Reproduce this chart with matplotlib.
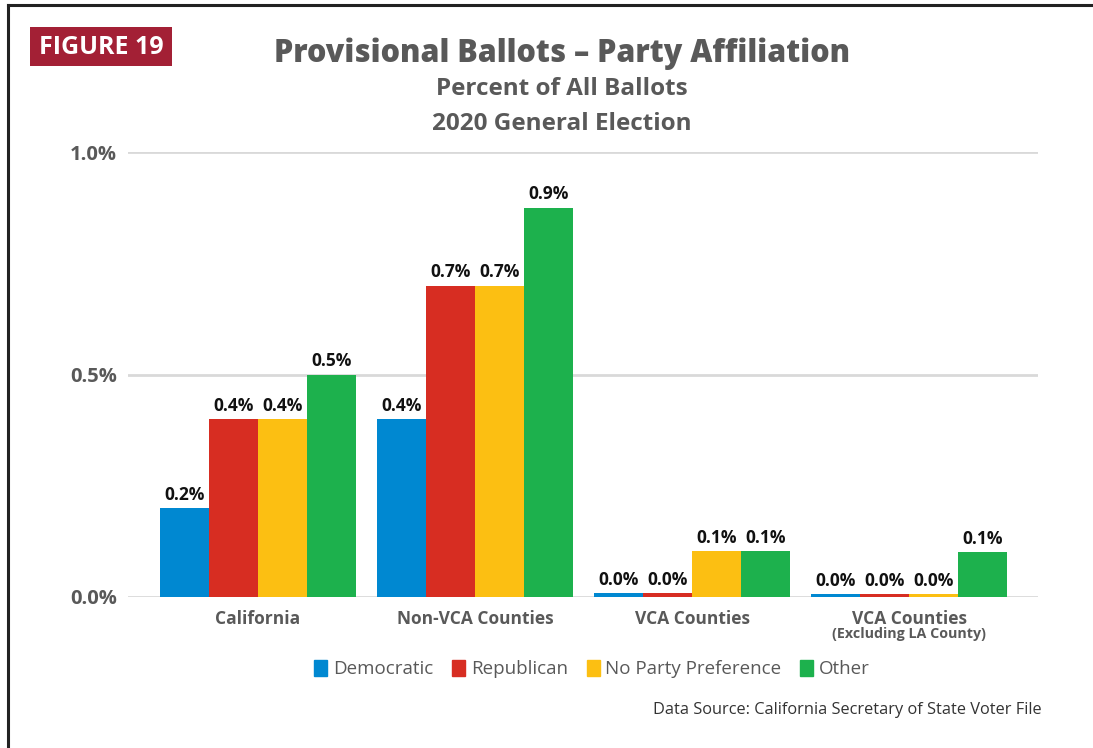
import matplotlib
matplotlib.use("Agg")
import matplotlib.pyplot as plt
from matplotlib.lines import Line2D
from matplotlib.patches import Rectangle
import numpy as np

plt.rcParams['font.family'] = ['Open Sans', 'DejaVu Sans']

# Data (percent of all ballots)
categories = ["California", "Non-VCA Counties", "VCA Counties", "VCA Counties"]
category_notes = ["", "", "", "(Excluding LA County)"]
series_names = ["Democratic", "Republican", "No Party Preference", "Other"]
democratic = [0.20, 0.40, 0.009, 0.007]
republican = [0.40, 0.70, 0.009, 0.007]
no_party = [0.40, 0.70, 0.103, 0.007]
other = [0.50, 0.875, 0.103, 0.101]
y_ticks = [0.0, 0.5, 1.0]

series_values = [democratic, republican, no_party, other]
colors = ["#0088D1", "#D72D22", "#FCBF12", "#1DB14D"]
gray = "#595959"

W, H = 1093, 748
fig = plt.figure(figsize=(W / 100, H / 100), dpi=100)

def fx(px):
    return px / W

def fy(py):
    return 1 - py / H

# outer frame (top and left rules)
fig.add_artist(Line2D([fx(8), 1.0], [fy(5), fy(5)], color="#222222", lw=2.2, transform=fig.transFigure))
fig.add_artist(Line2D([fx(8), fx(8)], [fy(5), 0.0], color="#222222", lw=2.2, transform=fig.transFigure))

# figure badge
fig.add_artist(Rectangle((fx(30), fy(66)), fx(172) - fx(30), fy(27) - fy(66),
                         transform=fig.transFigure, facecolor="#A32035", edgecolor="none"))
fig.text(fx(101), fy(47), "FIGURE 19", color="white", fontsize=18, fontweight="bold",
         ha="center", va="center")

# titles
fig.text(fx(562), fy(54), "Provisional Ballots \u2013 Party Affiliation", color=gray,
         fontsize=22, fontweight=800, ha="center", va="center")
fig.text(fx(562), fy(89), "Percent of All Ballots", color=gray,
         fontsize=17.5, fontweight="bold", ha="center", va="center")
fig.text(fx(562), fy(124), "2020 General Election", color=gray,
         fontsize=17.5, fontweight="bold", ha="center", va="center")

# plotting area
ax_left, ax_right, ax_top, ax_bottom = 128, 1038, 152, 597
ax = fig.add_axes([fx(ax_left), fy(ax_bottom), fx(ax_right - ax_left), fy(ax_top) - fy(ax_bottom)])

x = np.arange(len(categories))
bar_w = 0.2258
offsets = (np.arange(len(series_names)) - 1.5) * bar_w

for vals, off, col, name in zip(series_values, offsets, colors, series_names):
    bars = ax.bar(x + off, vals, width=bar_w, color=col, label=name, zorder=3)
    for b, v in zip(bars, vals):
        ax.annotate(f"{v:.1f}%", (b.get_x() + b.get_width() / 2, v),
                    xytext=(0, 3), textcoords="offset points",
                    ha="center", va="bottom", fontsize=12.5, fontweight="bold",
                    color="#111111", zorder=4)

ax.set_xlim(-0.599, 3.594)
ax.set_ylim(0, 1.0)
ax.set_yticks(y_ticks)
ax.set_yticklabels([f"{t:.1f}%" for t in y_ticks], fontsize=14.5, fontweight="bold", color=gray)
ax.tick_params(axis="y", length=0, pad=8)
ax.set_xticks([])
for s in ax.spines.values():
    s.set_visible(False)
ax.grid(axis="y", color="#D9D9D9", lw=2, zorder=0)
ax.set_axisbelow(True)
ax.patch.set_alpha(0)

# category labels
for xi, cat, note in zip(x, categories, category_notes):
    ax.annotate(cat, (xi, 0), xytext=(0, -15.5), textcoords="offset points",
                ha="center", va="center", fontsize=12.5, fontweight="bold", color=gray,
                annotation_clip=False)
    if note:
        ax.annotate(note, (xi, 0), xytext=(0, -26.5), textcoords="offset points",
                    ha="center", va="center", fontsize=10.3, fontweight="bold", color=gray,
                    annotation_clip=False)

# legend
handles = [Rectangle((0, 0), 1, 1, color=c) for c in colors]
fig.legend(handles, series_names, loc="center", bbox_to_anchor=(fx(592), fy(669)),
           ncol=4, frameon=False, fontsize=13.5, handlelength=0.7, handleheight=1.0,
           handletextpad=0.3, columnspacing=1.0, labelcolor=gray)

fig.text(fx(1042), fy(710), "Data Source: California Secretary of State Voter File",
         color="#333333", fontsize=11.8, ha="right", va="center")

fig.savefig("out.png", dpi=100, facecolor="white")
